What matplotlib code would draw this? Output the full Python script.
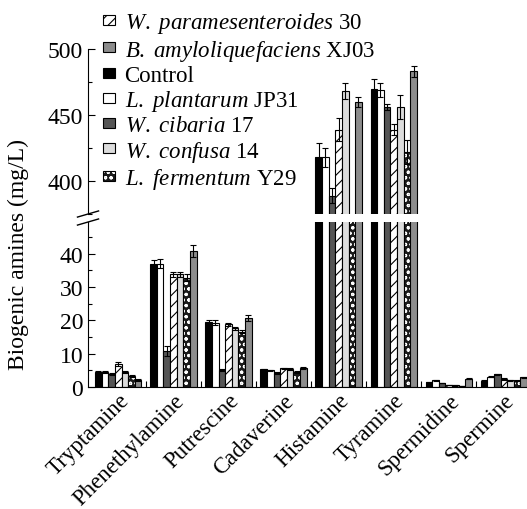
import matplotlib
matplotlib.use('Agg')
import matplotlib.pyplot as plt
import numpy as np
from matplotlib.patches import Patch
from matplotlib.legend_handler import HandlerTuple
from matplotlib.ticker import MultipleLocator

plt.rcParams['font.family'] = ['Liberation Serif', 'DejaVu Serif']
plt.rcParams['mathtext.fontset'] = 'custom'
plt.rcParams['mathtext.rm'] = 'Liberation Serif'
plt.rcParams['mathtext.it'] = 'Liberation Serif:italic'
plt.rcParams['hatch.linewidth'] = 0.8

# Daten
amines = ['Tryptamine', 'Phenethylamine', 'Putrescine', 'Cadaverine',
          'Histamine', 'Tyramine', 'Spermidine', 'Spermine']

control = [4.6, 36.9, 19.6, 5.3, 418, 470, 1.4, 1.9]
jp31 = [4.4, 37.0, 19.3, 5.0, 418, 469, 2.0, 3.1]
cibaria = [3.9, 10.9, 5.0, 4.2, 389, 456, 1.2, 3.8]
parames = [6.9, 33.8, 18.8, 5.6, 439, 439, 0.6, 2.4]
confusa = [4.4, 33.8, 17.6, 5.4, 468, 456, 0.5, 2.0]
y29 = [3.4, 32.8, 16.6, 4.5, 365, 422, 0.3, 1.9]
xj03 = [2.2, 40.9, 20.7, 5.7, 460, 483, 2.5, 2.9]

err_control = [0.3, 1.3, 0.6, 0.2, 11, 7, 0.1, 0.2]
err_jp31 = [0.3, 1.4, 0.7, 0.2, 7, 5, 0.1, 0.2]
err_cibaria = [0.3, 1.5, 0.3, 0.2, 6, 2, 0.1, 0.2]
err_parames = [0.7, 0.8, 0.4, 0.2, 9, 4, 0.1, 0.2]
err_confusa = [0.3, 0.8, 0.5, 0.2, 6, 9, 0.1, 0.2]
err_y29 = [0.3, 1.0, 0.4, 0.2, 0, 9, 0.1, 0.2]
err_xj03 = [0.3, 1.8, 0.8, 0.2, 4, 4, 0.1, 0.2]

series = [control, jp31, cibaria, parames, confusa, y29, xj03]
errors = [err_control, err_jp31, err_cibaria, err_parames, err_confusa, err_y29, err_xj03]
faces = ['black', 'white', '#555555', 'white', '#dcdcdc', '#1a1a1a', '#8c8c8c']
hatches = [None, None, None, '///', None, 'ooo', None]

fig = plt.figure(figsize=(5.27, 5.10), dpi=100)
ax_top = fig.add_axes([0.167, 0.5784, 0.833, 0.3235])
ax_bot = fig.add_axes([0.167, 0.2392, 0.833, 0.3235])

x = np.arange(len(amines))
w = 0.12
ekw = dict(elinewidth=0.8, capthick=0.8, ecolor='black')

for ax in (ax_top, ax_bot):
    for k in range(7):
        pos = x + (k - 3) * w
        yerr = errors[k]
        if k == 5:
            # Punktmuster: weisse Punkte auf dunklem Grund
            ax.bar(pos, series[k], w, color=faces[k], edgecolor='white',
                   hatch=hatches[k], linewidth=0)
            ax.bar(pos, series[k], w, fill=False, edgecolor='black',
                   linewidth=0.8, yerr=yerr, capsize=2.5, error_kw=ekw)
        else:
            ax.bar(pos, series[k], w, color=faces[k], edgecolor='black',
                   hatch=hatches[k], linewidth=0.8, yerr=yerr, capsize=2.5,
                   error_kw=ekw)
    ax.set_xlim(-0.55, 7.42)
    ax.spines['top'].set_visible(False)
    ax.spines['right'].set_visible(False)
    ax.tick_params(axis='y', which='both', direction='in', labelsize=17, width=0.8)
    ax.tick_params(axis='y', which='major', length=5)
    ax.tick_params(axis='y', which='minor', length=3)

ax_top.set_ylim(375, 500)
ax_top.set_yticks([400, 450, 500])
ax_top.yaxis.set_minor_locator(MultipleLocator(25))
ax_top.spines['bottom'].set_visible(False)
ax_top.set_xticks([])

ax_bot.set_ylim(0, 49.5)
ax_bot.set_yticks([0, 10, 20, 30, 40])
ax_bot.yaxis.set_minor_locator(MultipleLocator(5))
ax_bot.set_xticks(x)
ax_bot.set_xticklabels(amines, rotation=45, ha='right', rotation_mode='anchor',
                       fontsize=16.5)
ax_bot.set_xticks(x[:-1] + 0.5, minor=True)
ax_bot.tick_params(axis='x', which='major', length=0, pad=2)
ax_bot.tick_params(axis='x', which='minor', direction='in', length=4, width=0.8)

# Achsenbruch
x0 = 0.167
for yb in (0.5784, 0.5627):
    fig.add_artist(plt.Line2D([x0 - 0.02, x0 + 0.02], [yb - 0.006, yb + 0.006],
                              color='black', lw=1.0))

fig.text(0.034, 0.50, 'Biogenic amines (mg/L)', rotation=90, va='center',
         ha='center', fontsize=17)

# Legende
labels = [r'$\it{W.\ paramesenteroides}$ 30',
          r'$\it{B.\ amyloliquefaciens}$ XJ03',
          'Control',
          r'$\it{L.\ plantarum}$ JP31',
          r'$\it{W.\ cibaria}$ 17',
          r'$\it{W.\ confusa}$ 14',
          r'$\it{L.\ fermentum}$ Y29']
dot_fill = Patch(facecolor='#1a1a1a', edgecolor='white', hatch='ooo', linewidth=0)
dot_edge = Patch(facecolor='none', edgecolor='black', linewidth=0.8)
handles = [Patch(facecolor='white', edgecolor='black', hatch='///', linewidth=0.8),
           Patch(facecolor='#8c8c8c', edgecolor='black', linewidth=0.8),
           Patch(facecolor='black', edgecolor='black', linewidth=0.8),
           Patch(facecolor='white', edgecolor='black', linewidth=0.8),
           Patch(facecolor='#555555', edgecolor='black', linewidth=0.8),
           Patch(facecolor='#dcdcdc', edgecolor='black', linewidth=0.8),
           (dot_fill, dot_edge)]
fig.legend(handles, labels, loc='upper left', bbox_to_anchor=(0.195, 0.978),
           frameon=False, fontsize=16.5, handlelength=0.55, handleheight=0.3,
           handletextpad=0.4, labelspacing=0.1, borderpad=0, borderaxespad=0,
           handler_map={tuple: HandlerTuple(ndivide=1, pad=0)})

plt.savefig('out.png', dpi=100)
